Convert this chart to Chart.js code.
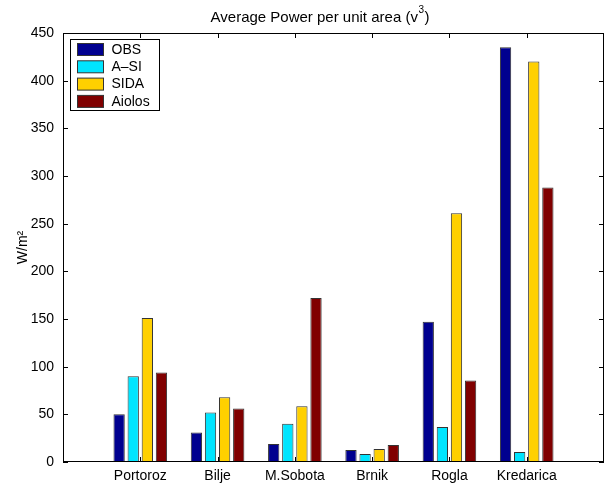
<!DOCTYPE html>
<html>
<head>
<meta charset="utf-8">
<script src="https://cdn.jsdelivr.net/npm/chart.js@4.4.1/dist/chart.umd.min.js"></script>
<style>
  body { margin: 0; background: #fff; }
  canvas { display: block; }
</style>
</head>
<body>
<canvas id="powerChart" width="610" height="488"></canvas>
<script>
const stations = ["Portoroz", "Bilje", "M.Sobota", "Brnik", "Rogla", "Kredarica"]
const obs = [50, 31, 19, 12.6, 147, 435]
const aSi = [90, 52, 40, 8.4, 36.6, 10.5]
const sida = [151, 68, 58.6, 13.6, 261, 420]
const aiolos = [94, 56, 172, 17.8, 85.5, 288]
const yTicks = [0, 50, 100, 150, 200, 250, 300, 350, 400, 450]

const seriesNames = ["OBS", "A\u2013SI", "SIDA", "Aiolos"]
const seriesColors = ["#00008f", "#00e5ff", "#ffd000", "#800000"]
const titleText = "Average Power per unit area (v"
const titleSup = "3"

const FONT = "'Liberation Sans', Arial, Helvetica, sans-serif"

// empty slot on each side, like the matlab axis 0..7
const labels = ["", ...stations, ""]
function pad(arr) {
    return [null, ...arr, null]
}

const frame = {
    id: "frame",
    afterDraw(chart) {
        const ctx = chart.ctx
        const { left, right, top, bottom } = chart.chartArea
        const x = chart.scales.x
        const y = chart.scales.y
        ctx.save()
        ctx.strokeStyle = "#000"
        ctx.lineWidth = 1
        ctx.strokeRect(left + 0.5, top + 0.5, right - left - 1, bottom - top - 1)

        ctx.beginPath()
        yTicks.forEach(v => {
            const py = Math.round(y.getPixelForValue(v)) + 0.5
            ctx.moveTo(left, py)
            ctx.lineTo(left + 5, py)
            ctx.moveTo(right, py)
            ctx.lineTo(right - 5, py)
        })
        stations.forEach((s, i) => {
            const px = Math.round(x.getPixelForValue(i + 1)) + 0.5
            ctx.moveTo(px, top)
            ctx.lineTo(px, top + 5)
            ctx.moveTo(px, bottom)
            ctx.lineTo(px, bottom - 5)
        })
        ctx.stroke()

        // title with a real superscript
        ctx.fillStyle = "#000"
        ctx.textBaseline = "alphabetic"
        ctx.font = "15px " + FONT
        const w1 = ctx.measureText(titleText).width
        ctx.font = "10px " + FONT
        const w2 = ctx.measureText(titleSup).width
        ctx.font = "15px " + FONT
        const w3 = ctx.measureText(")").width
        let tx = (left + right) / 2 - 14 - (w1 + w2 + w3) / 2
        ctx.fillText(titleText, tx, 21.5)
        ctx.font = "10px " + FONT
        ctx.fillText(titleSup, tx + w1 + 0.5, 13)
        ctx.font = "15px " + FONT
        ctx.fillText(")", tx + w1 + w2 + 1, 21.5)

        // legend box in the upper left corner
        const bx = left + 7.5, by = top + 6.5
        ctx.fillStyle = "#fff"
        ctx.fillRect(bx, by, 89, 71)
        ctx.strokeRect(bx, by, 89, 71)
        ctx.font = "14px " + FONT
        ctx.textBaseline = "middle"
        seriesNames.forEach((name, i) => {
            const cy = by + 10 + i * 17.3
            ctx.fillStyle = seriesColors[i]
            ctx.fillRect(bx + 7, cy - 6, 26, 12)
            ctx.strokeStyle = "#333"
            ctx.strokeRect(bx + 7, cy - 6, 26, 12)
            ctx.fillStyle = "#000"
            ctx.fillText(name, bx + 41, cy + 0.5)
        })
        ctx.restore()
    }
}

const ctx = document.getElementById("powerChart")

new Chart(ctx, {
    type: "bar",
    data: {
        labels: labels,
        datasets: [obs, aSi, sida, aiolos].map((vals, i) => ({
            label: seriesNames[i],
            data: pad(vals),
            backgroundColor: seriesColors[i],
            borderColor: "#333",
            borderWidth: 1,
            categoryPercentage: 0.73,
            barPercentage: 0.8
        }))
    },
    options: {
        responsive: false,
        animation: false,
        layout: { padding: { left: 0, right: 3, top: 33, bottom: 0 } },
        scales: {
            x: {
                offset: false,
                grid: { display: false, drawTicks: false },
                border: { display: false },
                ticks: {
                    color: "#000",
                    padding: 6,
                    maxRotation: 0,
                    autoSkip: false,
                    font: { family: FONT, size: 14 }
                },
                afterFit(scale) { scale.height = 26 }
            },
            y: {
                min: 0,
                max: 450,
                grid: { display: false, drawTicks: false },
                border: { display: false },
                ticks: {
                    stepSize: 50,
                    color: "#000",
                    padding: 9,
                    font: { family: FONT, size: 14 }
                },
                title: {
                    display: true,
                    text: "W/m\u00b2",
                    color: "#000",
                    padding: { top: 15, bottom: 0 },
                    font: { family: FONT, size: 14 }
                },
                afterFit(scale) { scale.width = 63 }
            }
        },
        plugins: {
            legend: { display: false },
            tooltip: { enabled: false },
            title: { display: false }
        }
    },
    plugins: [frame]
})
</script>
</body>
</html>
